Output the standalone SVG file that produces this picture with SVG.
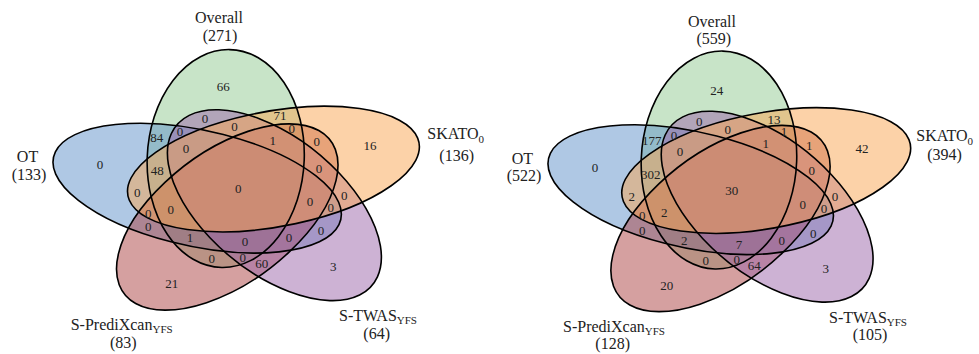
<svg xmlns="http://www.w3.org/2000/svg" xmlns:xlink="http://www.w3.org/1999/xlink" width="979" height="354" viewBox="0 0 979 354">
<style>
.fill{fill-opacity:0.5;stroke:none}
.fG{fill:#91c991}
.fB{fill:#5f91c9}
.fR{fill:#ab4141}
.fP{fill:#9b65a9}
.fO{fill:#f9a551}
.ol{fill:none;stroke:#000;stroke-width:1.6}
text{font-family:"Liberation Serif","Times New Roman",serif;fill:#222}
.n{font-size:13px;text-anchor:middle}
.c{font-size:16px;text-anchor:middle}
.s{font-size:16px}
.sub{font-size:11px}
</style>
<defs>
<ellipse id="eG" cx="-10.06" cy="-29.06" rx="109" ry="56.9" transform="rotate(-88.5 -10.06 -29.06)" vector-effect="non-scaling-stroke"/>
<ellipse id="eB" cx="-30.74" cy="0.59" rx="109" ry="56.9" transform="rotate(-160.5 -30.74 0.59)" vector-effect="non-scaling-stroke"/>
<ellipse id="eR" cx="-8.94" cy="29.42" rx="109" ry="56.9" transform="rotate(127.5 -8.94 29.42)" vector-effect="non-scaling-stroke"/>
<ellipse id="eP" cx="25.22" cy="17.6" rx="109" ry="56.9" transform="rotate(55.5 25.22 17.6)" vector-effect="non-scaling-stroke"/>
<ellipse id="eO" cx="24.53" cy="-18.55" rx="109" ry="56.9" transform="rotate(-16.5 24.53 -18.55)" vector-effect="non-scaling-stroke"/>
</defs>

<g id="venn-left" transform="translate(239.6,187.6) scale(1.38,1)">
  <g id="left-overall"><use href="#eG" xlink:href="#eG" class="fill fG"/></g>
  <g id="left-ot"><use href="#eB" xlink:href="#eB" class="fill fB"/></g>
  <g id="left-predixcan"><use href="#eR" xlink:href="#eR" class="fill fR"/></g>
  <g id="left-twas"><use href="#eP" xlink:href="#eP" class="fill fP"/></g>
  <g id="left-skato"><use href="#eO" xlink:href="#eO" class="fill fO"/></g>
  <g id="left-outlines">
    <use href="#eG" xlink:href="#eG" class="ol"/>
    <use href="#eB" xlink:href="#eB" class="ol"/>
    <use href="#eR" xlink:href="#eR" class="ol"/>
    <use href="#eP" xlink:href="#eP" class="ol"/>
    <use href="#eO" xlink:href="#eO" class="ol"/>
  </g>
</g>

<g id="venn-right" transform="translate(732.7,189.1) scale(1.366,1)">
  <g id="right-overall"><use href="#eG" xlink:href="#eG" class="fill fG"/></g>
  <g id="right-ot"><use href="#eB" xlink:href="#eB" class="fill fB"/></g>
  <g id="right-predixcan"><use href="#eR" xlink:href="#eR" class="fill fR"/></g>
  <g id="right-twas"><use href="#eP" xlink:href="#eP" class="fill fP"/></g>
  <g id="right-skato"><use href="#eO" xlink:href="#eO" class="fill fO"/></g>
  <g id="right-outlines">
    <use href="#eG" xlink:href="#eG" class="ol"/>
    <use href="#eB" xlink:href="#eB" class="ol"/>
    <use href="#eR" xlink:href="#eR" class="ol"/>
    <use href="#eP" xlink:href="#eP" class="ol"/>
    <use href="#eO" xlink:href="#eO" class="ol"/>
  </g>
</g>

<g id="left-set-labels">
  <text class="c" x="219" y="22.7">Overall</text>
  <text class="c" x="220" y="40.5">(271)</text>
  <text class="c" x="27.5" y="161.7">OT</text>
  <text class="c" x="29" y="179.5">(133)</text>
  <text class="s" x="427.3" y="139.3">SKATO<tspan class="sub" dy="3.5">0</tspan></text>
  <text class="c" x="456.7" y="161">(136)</text>
  <text class="s" x="70.7" y="329.5">S-PrediXcan<tspan class="sub" dy="3">YFS</tspan></text>
  <text class="c" x="123.3" y="348">(83)</text>
  <text class="s" x="339" y="320.5">S-TWAS<tspan class="sub" dy="3">YFS</tspan></text>
  <text class="c" x="376.7" y="339">(64)</text>
</g>

<g id="right-set-labels">
  <text class="c" x="712" y="26.5">Overall</text>
  <text class="c" x="713.8" y="44">(559)</text>
  <text class="c" x="522.3" y="164">OT</text>
  <text class="c" x="524" y="181">(522)</text>
  <text class="s" x="916.3" y="141">SKATO<tspan class="sub" dy="3.5">0</tspan></text>
  <text class="c" x="944.5" y="160">(394)</text>
  <text class="s" x="563" y="332">S-PrediXcan<tspan class="sub" dy="3">YFS</tspan></text>
  <text class="c" x="612.7" y="349">(128)</text>
  <text class="s" x="829" y="322.5">S-TWAS<tspan class="sub" dy="3">YFS</tspan></text>
  <text class="c" x="870" y="340">(105)</text>
</g>

<g id="left-counts" class="n">
  <text class="n" x="223.3" y="90.5">66</text>
  <text class="n" x="205" y="122.8">0</text>
  <text class="n" x="280" y="120">71</text>
  <text class="n" x="156.7" y="141.8">84</text>
  <text class="n" x="180" y="136.2">0</text>
  <text class="n" x="234.5" y="131">0</text>
  <text class="n" x="291.7" y="132.8">0</text>
  <text class="n" x="272.7" y="145.2">1</text>
  <text class="n" x="316.7" y="146.2">0</text>
  <text class="n" x="370" y="150">16</text>
  <text class="n" x="186" y="152.8">0</text>
  <text class="n" x="100" y="169">0</text>
  <text class="n" x="157.3" y="175.2">48</text>
  <text class="n" x="319" y="172.8">0</text>
  <text class="n" x="238.3" y="192.8">0</text>
  <text class="n" x="137.3" y="197.2">0</text>
  <text class="n" x="344.3" y="199.5">0</text>
  <text class="n" x="310" y="206.2">0</text>
  <text class="n" x="330.7" y="211.8">0</text>
  <text class="n" x="148.3" y="217.8">0</text>
  <text class="n" x="170.7" y="213.8">0</text>
  <text class="n" x="148.3" y="231.2">0</text>
  <text class="n" x="190" y="241.8">1</text>
  <text class="n" x="245" y="246.2">0</text>
  <text class="n" x="289" y="242.2">0</text>
  <text class="n" x="321" y="235.2">0</text>
  <text class="n" x="211.7" y="262.8">0</text>
  <text class="n" x="242.7" y="262.2">0</text>
  <text class="n" x="261.7" y="267.8">60</text>
  <text class="n" x="333.3" y="271.2">3</text>
  <text class="n" x="171.7" y="287.8">21</text>
</g>

<g id="right-counts">
  <text class="n" x="716.7" y="94.5">24</text>
  <text class="n" x="699.3" y="126.2">0</text>
  <text class="n" x="774" y="123.8">13</text>
  <text class="n" x="651.7" y="145.2">177</text>
  <text class="n" x="674" y="139.5">0</text>
  <text class="n" x="727.7" y="133.8">0</text>
  <text class="n" x="784" y="136.2">1</text>
  <text class="n" x="765.7" y="147.8">1</text>
  <text class="n" x="809.3" y="149.5">1</text>
  <text class="n" x="680" y="155.5">0</text>
  <text class="n" x="862" y="152.8">42</text>
  <text class="n" x="595" y="171.8">0</text>
  <text class="n" x="650.7" y="178.8">302</text>
  <text class="n" x="811.7" y="175.2">0</text>
  <text class="n" x="731.7" y="195.2">30</text>
  <text class="n" x="631.7" y="200.5">2</text>
  <text class="n" x="835" y="201.2">0</text>
  <text class="n" x="802.7" y="208.5">0</text>
  <text class="n" x="824" y="212.8">0</text>
  <text class="n" x="642.3" y="219.5">0</text>
  <text class="n" x="664.3" y="216.8">2</text>
  <text class="n" x="642.3" y="234.5">0</text>
  <text class="n" x="684.3" y="245.2">2</text>
  <text class="n" x="739" y="248.5">7</text>
  <text class="n" x="781.7" y="244.5">0</text>
  <text class="n" x="813.3" y="237.8">0</text>
  <text class="n" x="705.7" y="264.5">0</text>
  <text class="n" x="736.7" y="263.8">0</text>
  <text class="n" x="754.3" y="270.2">64</text>
  <text class="n" x="825.7" y="272.8">3</text>
  <text class="n" x="666.7" y="289.5">20</text>
</g>
</svg>
